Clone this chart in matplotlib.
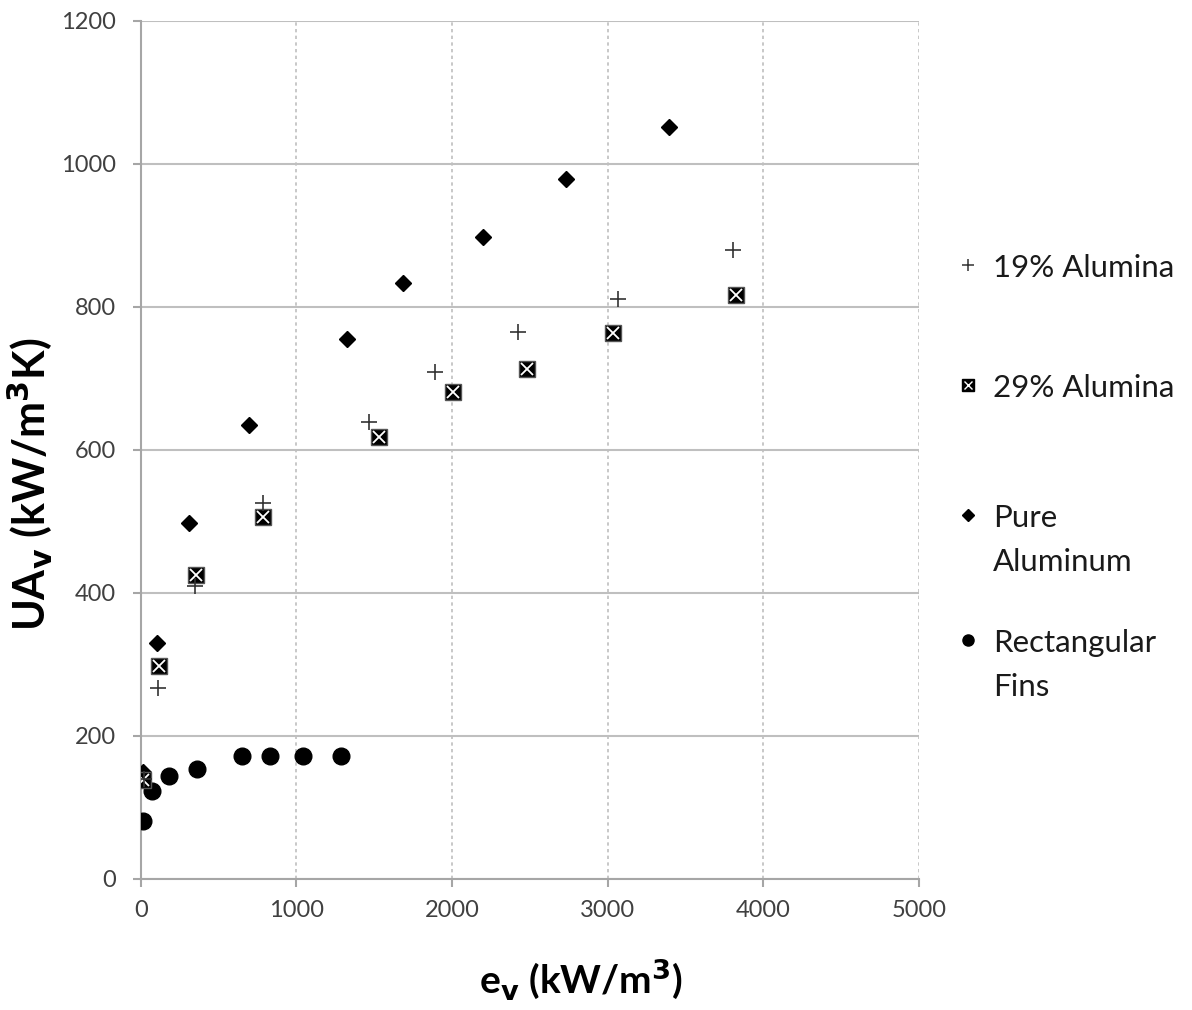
import numpy as np
import matplotlib.pyplot as plt
from matplotlib.lines import Line2D

# values
ev_19 = [20, 109, 351, 784, 1468, 1892, 2421, 3064, 3806]
ua_19 = [140, 267, 409, 526, 639, 708, 764, 811, 879]

ev_29 = [17, 120, 355, 784, 1532, 2008, 2479, 3032, 3823]
ua_29 = [138, 297, 425, 506, 618, 681, 713, 763, 816]

ev_pure = [17, 107, 308, 699, 1327, 1686, 2199, 2731, 3397]
ua_pure = [149, 330, 497, 634, 755, 833, 898, 978, 1051]

ev_rect = [13, 75, 184, 364, 653, 831, 1044, 1287]
ua_rect = [81, 123, 143, 153, 171, 171, 171, 171]

labels = ['19% Alumina', '29% Alumina', 'Pure\nAluminum', 'Rectangular\nFins']

plt.rcParams['font.family'] = ['Lato', 'DejaVu Sans']

W, H = 1192, 1010
fig = plt.figure(figsize=(W / 100, H / 100), dpi=100)
ax = fig.add_axes([0.118, 0.130, 0.653, 0.8495])

grid_c = '#bfbfbf'
ax.set_xlim(0, 5000)
ax.set_ylim(0, 1200)
ax.set_xticks(np.arange(0, 5001, 1000))
ax.set_yticks(np.arange(0, 1201, 200))
ax.yaxis.grid(True, color=grid_c, lw=1.5, ls='-')
ax.xaxis.grid(True, color=grid_c, lw=1.2, ls=(0, (2, 2)))
ax.set_axisbelow(True)
for s in ['top', 'right']:
    ax.spines[s].set_visible(False)
for s in ['left', 'bottom']:
    ax.spines[s].set_color('#a6a6a6')
    ax.spines[s].set_linewidth(1.5)
ax.tick_params(direction='out', length=6, width=1.5, color='#a6a6a6',
               labelsize=17, labelcolor='#404040')
ax.tick_params(axis='y', pad=12)
ax.tick_params(axis='x', pad=9)

# series
ax.plot(ev_rect, ua_rect, 'o', color='black', ms=12, ls='none', zorder=3)
ax.plot(ev_pure, ua_pure, 'D', color='black', ms=8.5, ls='none', zorder=4)
ax.plot(ev_29, ua_29, 's', color='black', mec='#555555', ms=11, ls='none', zorder=5)
ax.plot(ev_29, ua_29, 'x', color='white', mew=1.3, ms=8, ls='none', zorder=6)
ax.plot(ev_19, ua_19, '+', color='#333333', mew=1.2, ms=11, ls='none', zorder=7)

ax.set_xlabel('e$_\\mathbf{v}$ (kW/m$^\\mathbf{3}$)', fontsize=28, fontweight='bold')
ax.set_ylabel('UA$_\\mathbf{v}$ (kW/m$^\\mathbf{3}$K)', fontsize=31, fontweight='bold')
ax.xaxis.set_label_coords((581 - 140.7) / 778.4, -(979 - 878.7) / 858, transform=ax.transAxes)
ax.yaxis.set_label_coords(-(140.7 - 30) / 778.4, (878.7 - 484) / 858, transform=ax.transAxes)
ax.xaxis.label.set_va('center')
ax.yaxis.label.set_va('center')

# legend drawn by hand: marker on the first line of each label, like the source
leg_y = [265, 385, 515, 640]   # pixel centre of each entry's first line
line_gap = 44
mk_x, tx_x = 968 / W, 993 / W
handles = [
    [dict(marker='+', color='#333333', ms=9, mew=1.1)],
    [dict(marker='s', color='black', ms=8), dict(marker='x', color='white', ms=6, mew=1)],
    [dict(marker='D', color='black', ms=6)],
    [dict(marker='o', color='black', ms=8)],
]
for yc, lab, hs in zip(leg_y, labels, handles):
    yf = 1 - yc / H
    for kw in hs:
        fig.add_artist(Line2D([mk_x], [yf], ls='none', transform=fig.transFigure, **kw))
    for k, line in enumerate(lab.split('\n')):
        fig.text(tx_x, 1 - (yc + 12 + k * line_gap) / H, line, fontsize=22.5,
                 color='#1a1a1a', va='baseline', ha='left')

fig.savefig('out.png', dpi=100)
